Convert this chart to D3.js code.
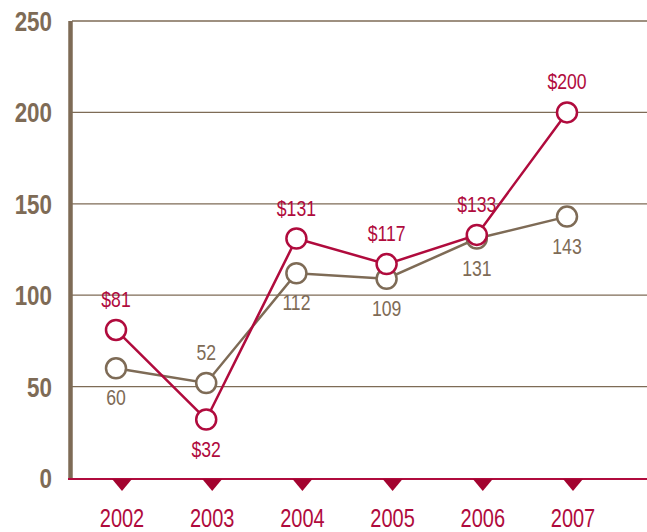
<!DOCTYPE html>
<html>
<head>
<meta charset="utf-8">
<script src="https://cdn.jsdelivr.net/npm/d3@7"></script>
<style>
  body { margin: 0; background: #fff; }
  text { font-family: "Liberation Sans", Arial, sans-serif; }
</style>
</head>
<body>
<svg id="chart" width="647" height="532"></svg>
<script>
const years = [2002, 2003, 2004, 2005, 2006, 2007]
const revenue = [81, 32, 131, 117, 133, 200]
const units = [60, 52, 112, 109, 131, 143]
const yTicks = [0, 50, 100, 150, 200, 250]
// where each value label sits relative to its point
const revenueSide = ['up', 'down', 'up', 'up', 'up', 'up']
const unitsSide = ['down', 'up', 'down', 'down', 'down', 'down']

const red = '#b00b3d'
const darkRed = '#a3032f'
const brown = '#7e6b56'
const narrow = 0.8 // squeeze text to look like a condensed face

const svg = d3.select('#chart')

const x = d3.scaleLinear().domain([2002, 2007]).range([116, 567])
const y = d3.scaleLinear().domain([0, 250]).range([478, 21])

const place = (px, py) => 'translate(' + px + ',' + py + ') scale(' + narrow + ',1)'

// gridlines
svg.append('g')
  .selectAll('line')
  .data(yTicks.filter(d => d > 0))
  .enter()
  .append('line')
  .attr('x1', 72)
  .attr('x2', 647)
  .attr('y1', d => y(d))
  .attr('y2', d => y(d))
  .attr('stroke', brown)
  .attr('stroke-width', 1.3)

// y tick labels
svg.append('g')
  .selectAll('text')
  .data(yTicks)
  .enter()
  .append('text')
  .attr('transform', d => place(52, y(d)))
  .attr('dy', '0.36em')
  .attr('text-anchor', 'end')
  .attr('font-size', 28)
  .attr('font-weight', 'bold')
  .attr('fill', brown)
  .text(d => d)

// left axis bar
svg.append('line')
  .attr('x1', 70.5).attr('x2', 70.5)
  .attr('y1', y(250)).attr('y2', y(0) + 1)
  .attr('stroke', brown)
  .attr('stroke-width', 4.5)

// bottom axis
svg.append('line')
  .attr('x1', 68).attr('x2', 647)
  .attr('y1', y(0) + 1).attr('y2', y(0) + 1)
  .attr('stroke', red)
  .attr('stroke-width', 2)

const tickX = d => x(d) + 6

svg.append('g')
  .selectAll('path')
  .data(years)
  .enter()
  .append('path')
  .attr('d', d => {
    const cx = tickX(d), top = y(0) + 1
    return 'M' + (cx - 10) + ',' + top + 'L' + (cx + 10) + ',' + top + 'L' + cx + ',' + (top + 12) + 'Z'
  })
  .attr('fill', darkRed)

svg.append('g')
  .selectAll('text')
  .data(years)
  .enter()
  .append('text')
  .attr('transform', d => place(tickX(d), 527))
  .attr('text-anchor', 'middle')
  .attr('font-size', 25)
  .attr('fill', red)
  .text(d => d)

function drawSeries(values, sides, color, fmt) {
  const pts = years.map((yr, i) => ({ yr, v: values[i], side: sides[i] }))
  const line = d3.line().x(d => x(d.yr)).y(d => y(d.v))
  const g = svg.append('g')

  g.append('path')
    .datum(pts)
    .attr('d', line)
    .attr('fill', 'none')
    .attr('stroke', color)
    .attr('stroke-width', 2.5)

  g.selectAll('circle')
    .data(pts)
    .enter()
    .append('circle')
    .attr('cx', d => x(d.yr))
    .attr('cy', d => y(d.v))
    .attr('r', 10)
    .attr('fill', '#fff')
    .attr('stroke', color)
    .attr('stroke-width', 2.5)

  g.selectAll('text')
    .data(pts)
    .enter()
    .append('text')
    .attr('transform', d => place(x(d.yr), y(d.v) + (d.side === 'up' ? -23 : 37)))
    .attr('text-anchor', 'middle')
    .attr('font-size', 22)
    .attr('fill', color)
    .text(d => fmt(d.v))
}

drawSeries(units, unitsSide, brown, d => d)
drawSeries(revenue, revenueSide, red, d => '$' + d)
</script>
</body>
</html>
